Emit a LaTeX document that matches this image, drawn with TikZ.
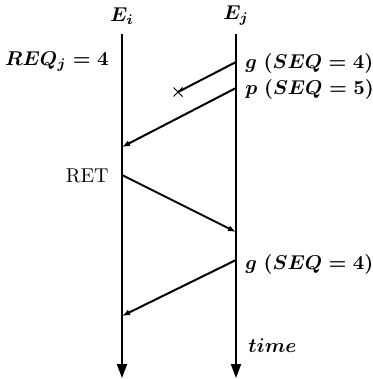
\documentclass[tikz,border=0pt]{standalone}
\usepackage{tikz}
\usetikzlibrary{arrows.meta,positioning,shapes.misc}
\tikzset{
  timeline/.style={
    line width=1pt,
    -{Triangle[length=7pt,width=5pt]}
  },
  msgarrow/.style={
    line width=1pt,
    -{Latex[length=4pt,width=3pt]}
  },
  msglost/.style={
    line width=1pt
  },
  evlabel/.style={
    font=\boldmath,
    inner sep=1pt
  },
  lostmark/.style={
    cross out,
    draw,
    line width=0.5pt,
    minimum size=4pt,
    inner sep=0pt
  }
}

\begin{document}
\begin{tikzpicture}[x=0.5pt,y=-0.5pt]
\useasboundingbox (0,0) rectangle (372,379);

\node[evlabel] (Ei) at (122,16) {$E_i$};
\node[evlabel] (Ej) at (236,16) {$E_j$};

\coordinate (Eitop) at (122,34);
\coordinate (Eibot) at (122,378);
\coordinate (Ejtop) at (236,34);
\coordinate (Ejbot) at (236,378);

\coordinate (gsend) at (236,62);
\coordinate (psend) at (236,88);
\coordinate (precv) at (122,147);
\coordinate (retsend) at (122,175);
\coordinate (retrecv) at (236,232);
\coordinate (gresend) at (236,260);
\coordinate (grecv) at (122,316);
\node[lostmark] (lost) at (178,92) {};

\node[evlabel, anchor=east] (req) at (111,62) {$REQ_j = 4$};
\node[anchor=east, inner sep=1pt] (ret) at (111,176) {RET};
\node[evlabel, anchor=west] (glabel) at (243,64) {$g\ (SEQ = 4)$};
\node[evlabel, anchor=west] (plabel) at (243,90) {$p\ (SEQ = 5)$};
\node[evlabel, anchor=west] (g2label) at (243,264) {$g\ (SEQ = 4)$};
\node[evlabel, anchor=west] (timelabel) at (246,346) {$time$};

\draw[timeline] (Eitop) -- (Eibot);
\draw[timeline] (Ejtop) -- (Ejbot);

\draw[msglost] (gsend) -- (lost.center);
\draw[msgarrow] (psend) -- (precv);
\draw[msgarrow] (retsend) -- (retrecv);
\draw[msgarrow] (gresend) -- (grecv);
\end{tikzpicture}
\end{document}
